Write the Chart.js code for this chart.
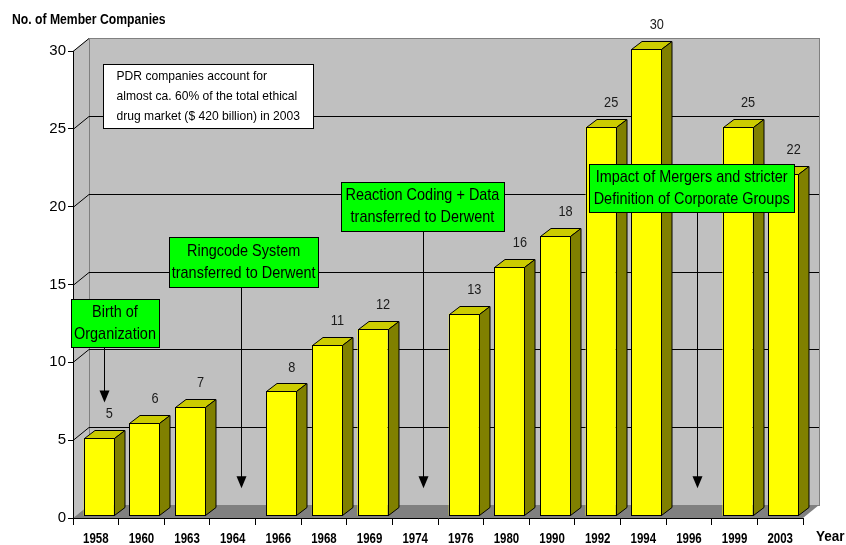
<!DOCTYPE html>
<html>
<head>
<meta charset="utf-8">
<script src="https://cdn.jsdelivr.net/npm/chart.js@4.4.1/dist/chart.umd.min.js"></script>
<style>
  html, body { margin: 0; padding: 0; background: #ffffff; }
  #c { display: block; }
</style>
</head>
<body>
<canvas id="c" width="846" height="545"></canvas>
<script>
// ---------- DATA ----------
const years = ['1958','1960','1963','1964','1966','1968','1969','1974','1976','1980','1990','1992','1994','1996','1999','2003'];
const members = [5, 6, 7, null, 8, 11, 12, null, 13, 16, 18, 25, 30, null, 25, 22];
const yTickValues = [0, 5, 10, 15, 20, 25, 30];
const yAxisTitle = 'No. of Member Companies';
const xAxisTitle = 'Year';
const noteTexts = [
  ['Birth of', 'Organization'],
  ['Ringcode System', 'transferred to Derwent'],
  ['Reaction Coding + Data', 'transferred to Derwent'],
  ['Impact of Mergers and stricter', 'Definition of Corporate Groups']
];
const noteYears = ['1958', '1964', '1974', '1996'];
const infoText = [
  'PDR companies account for',
  'almost ca. 60% of the total ethical',
  'drug market ($ 420 billion) in 2003'
];

// ---------- STYLE / LAYOUT ----------
const FONT = "'Liberation Sans', Arial, sans-serif";
const WALL_DX = 16, WALL_DY = -13;      // depth of the chart box
const BAR_DX = 10.5, BAR_DY = -8;       // depth of each bar
const BAR_SHIFT_X = 3, BAR_SHIFT_Y = -2; // front face of bars sits slightly behind front plane
const MID_DX = 8, MID_DY = -6.5;        // mid-depth (arrows)
const noteLayout = [
  { f: 0.42, v: 12.53, w: 88,  h: 48, tipV: 7.0 },
  { f: 3.24, v: 16.45, w: 149, h: 50, tipV: 1.5 },
  { f: 7.16, v: 20.0,  w: 163, h: 49, tipV: 1.5 },
  { f: 13.06, v: 21.2, w: 205, h: 48, tipV: 1.5 }
];
const infoLayout = { f: 2.46, v: 27.1, w: 210, h: 64 };

function sText(ctx, txt, x, y, font, s, align, color) {
  ctx.save();
  ctx.font = font;
  ctx.fillStyle = color || '#000';
  ctx.textBaseline = 'middle';
  ctx.textAlign = align || 'center';
  ctx.translate(x, y);
  ctx.scale(s, 1);
  ctx.fillText(txt, 0, 0);
  ctx.restore();
}

const threeD = {
  id: 'threeD',
  beforeDraw(chart) {
    const ctx = chart.ctx;
    const xs = chart.scales.x, ys = chart.scales.y;
    const L = xs.left, R = xs.right;
    const y0 = ys.getPixelForValue(0), yT = ys.getPixelForValue(30);
    ctx.save();
    ctx.fillStyle = '#c0c0c0';
    ctx.fillRect(L + WALL_DX, yT + WALL_DY, R - L, y0 - yT);
    ctx.beginPath();
    ctx.moveTo(L, yT); ctx.lineTo(L + WALL_DX, yT + WALL_DY);
    ctx.lineTo(L + WALL_DX, y0 + WALL_DY); ctx.lineTo(L, y0);
    ctx.closePath(); ctx.fill();
    ctx.fillStyle = '#808080';
    ctx.beginPath();
    ctx.moveTo(L, y0); ctx.lineTo(R, y0);
    ctx.lineTo(R + WALL_DX, y0 + WALL_DY); ctx.lineTo(L + WALL_DX, y0 + WALL_DY);
    ctx.closePath(); ctx.fill();
    ctx.strokeStyle = '#808080'; ctx.lineWidth = 1;
    ctx.strokeRect(Math.round(L + WALL_DX) + 0.5, Math.round(yT + WALL_DY) + 0.5, R - L, y0 - yT);
    ctx.strokeStyle = '#000';
    yTickValues.forEach(v => {
      if (v === 0) return;
      const yp = Math.round(ys.getPixelForValue(v)) + 0.5;
      ctx.beginPath();
      ctx.moveTo(L, yp);
      ctx.lineTo(L + WALL_DX, yp + WALL_DY);
      if (v !== 30) ctx.lineTo(R + WALL_DX, yp + WALL_DY);
      ctx.stroke();
    });
    ctx.restore();
  },
  beforeDatasetsDraw(chart) {
    chart.ctx.save();
    chart.ctx.translate(BAR_SHIFT_X, BAR_SHIFT_Y);
  },
  afterDatasetsDraw(chart) {
    const ctx = chart.ctx;
    const meta = chart.getDatasetMeta(0);
    ctx.lineWidth = 1;
    ctx.strokeStyle = '#000';
    meta.data.forEach((bar, i) => {
      if (members[i] == null) return;
      const p = bar.getProps(['x', 'y', 'base', 'width'], true);
      const l = Math.round(p.x - p.width / 2) + 0.5, r = Math.round(p.x + p.width / 2) + 0.5;
      const y = Math.round(p.y) + 0.5, b = Math.round(p.base) - 0.5;
      // front outline
      ctx.strokeRect(l, y, r - l, b - y);
      // top face
      ctx.beginPath();
      ctx.moveTo(l, y); ctx.lineTo(l + BAR_DX, y + BAR_DY);
      ctx.lineTo(r + BAR_DX, y + BAR_DY); ctx.lineTo(r, y); ctx.closePath();
      ctx.fillStyle = '#cccc00'; ctx.fill(); ctx.stroke();
      // side face
      ctx.beginPath();
      ctx.moveTo(r, y); ctx.lineTo(r + BAR_DX, y + BAR_DY);
      ctx.lineTo(r + BAR_DX, b + BAR_DY); ctx.lineTo(r, b); ctx.closePath();
      ctx.fillStyle = '#808000'; ctx.fill(); ctx.stroke();
      sText(ctx, String(members[i]), p.x + 10.5, p.y - 24, '15px ' + FONT, 0.85, 'center', '#1a1a1a');
    });
    ctx.restore();
  },
  afterDraw(chart) {
    const ctx = chart.ctx;
    const xs = chart.scales.x, ys = chart.scales.y;
    years.forEach((yr, i) => {
      sText(ctx, yr, xs.getPixelForValue(i), 539, 'bold 14px ' + FONT, 0.82, 'center', '#000');
    });
    sText(ctx, yAxisTitle, 12, 20, 'bold 14px ' + FONT, 0.87, 'left', '#000');
    sText(ctx, xAxisTitle, 816, 537, 'bold 15px ' + FONT, 0.9, 'left', '#000');

    const ix = xs.getPixelForValue(infoLayout.f), iy = ys.getPixelForValue(infoLayout.v);
    const il = Math.round(ix - infoLayout.w / 2) + 0.5, it = Math.round(iy - infoLayout.h / 2) + 0.5;
    ctx.save();
    ctx.fillStyle = '#fff'; ctx.strokeStyle = '#000'; ctx.lineWidth = 1;
    ctx.fillRect(il, it, infoLayout.w, infoLayout.h);
    ctx.strokeRect(il, it, infoLayout.w, infoLayout.h);
    ctx.restore();
    infoText.forEach((t, k) => {
      sText(ctx, t, il + 13, iy - 20 + k * 20, '13px ' + FONT, 0.93, 'left', '#000');
    });

    noteTexts.forEach((lines, k) => {
      const lay = noteLayout[k];
      const cx = xs.getPixelForValue(lay.f), cy = ys.getPixelForValue(lay.v);
      const bl = Math.round(cx - lay.w / 2) + 0.5, bt = Math.round(cy - lay.h / 2) + 0.5;
      const idx = years.indexOf(noteYears[k]);
      const ax = Math.round(xs.getPixelForValue(idx) + MID_DX) + 0.5;
      const tip = ys.getPixelForValue(lay.tipV) + MID_DY;
      ctx.save();
      ctx.strokeStyle = '#000'; ctx.fillStyle = '#000'; ctx.lineWidth = 1;
      ctx.beginPath();
      ctx.moveTo(ax, bt + lay.h); ctx.lineTo(ax, tip - 6); ctx.stroke();
      ctx.beginPath();
      ctx.moveTo(ax - 5, tip - 12); ctx.lineTo(ax + 5, tip - 12); ctx.lineTo(ax, tip); ctx.closePath(); ctx.fill();
      ctx.fillStyle = '#00ff00';
      ctx.fillRect(bl, bt, lay.w, lay.h);
      ctx.strokeRect(bl, bt, lay.w, lay.h);
      ctx.restore();
      lines.forEach((t, j) => {
        sText(ctx, t, cx, cy - 11 + j * 22, '17px ' + FONT, 0.85, 'center', '#000');
      });
    });
  }
};

new Chart(document.getElementById('c'), {
  type: 'bar',
  data: {
    labels: years,
    datasets: [{
      data: members,
      backgroundColor: '#ffff00',
      borderColor: '#000000',
      borderWidth: 0,
      barPercentage: 0.66,
      categoryPercentage: 1.0,
      clip: false
    }]
  },
  options: {
    responsive: false,
    animation: false,
    devicePixelRatio: 1,
    layout: { padding: { top: 51, right: 43, left: 0, bottom: 0 } },
    plugins: { legend: { display: false }, tooltip: { enabled: false }, title: { display: false } },
    scales: {
      x: {
        type: 'category',
        offset: true,
        grid: { display: true, drawOnChartArea: false, drawTicks: true, tickLength: 7, color: '#000', offset: true },
        border: { display: true, color: '#000', width: 1 },
        ticks: { display: false },
        afterFit(scale) { scale.height = 27; }
      },
      y: {
        min: 0, max: 30,
        afterBuildTicks(scale) { scale.ticks = yTickValues.map(v => ({ value: v })); },
        grid: { display: true, drawOnChartArea: false, drawTicks: true, tickLength: 5, color: '#000' },
        border: { display: true, color: '#000', width: 1 },
        ticks: { font: { family: FONT, size: 15 }, color: '#000', padding: 2 },
        afterFit(scale) { scale.width = 73; }
      }
    }
  },
  plugins: [threeD]
});
</script>
</body>
</html>
